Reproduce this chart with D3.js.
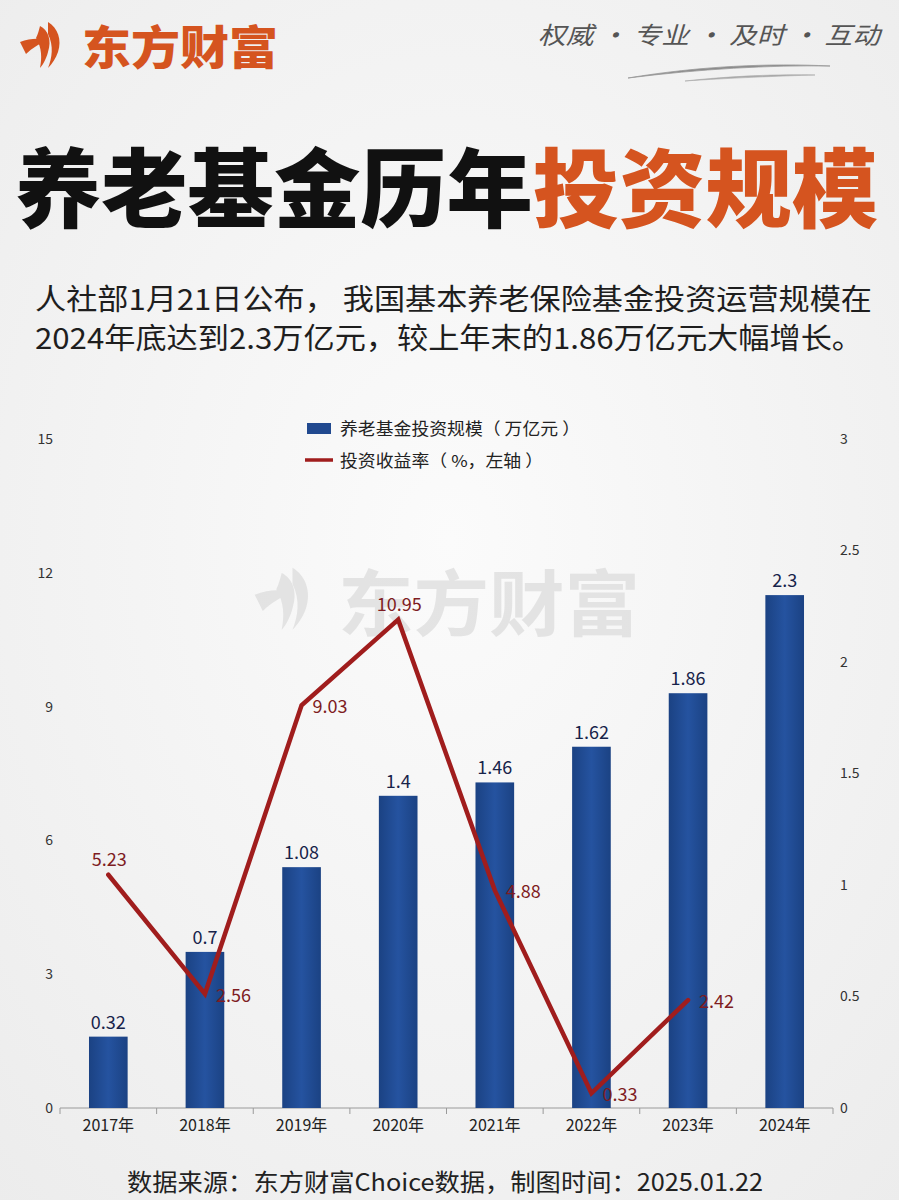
<!DOCTYPE html>
<html><head><meta charset="utf-8">
<script src="https://cdn.jsdelivr.net/npm/d3@7"></script>
<style>
html,body{margin:0;padding:0;background:#f2f2f2;}
svg{display:block;}
text{font-family:"Noto Sans CJK SC","Noto Sans",sans-serif;}
</style></head>
<body>
<svg id="c" width="899" height="1200"></svg>
<script>
// ---- data ----
const years = ["2017年","2018年","2019年","2020年","2021年","2022年","2023年","2024年"];
const scale = [0.32, 0.7, 1.08, 1.4, 1.46, 1.62, 1.86, 2.3];           // 万亿元 (right axis)
const yieldRate = [5.23, 2.56, 9.03, 10.95, 4.88, 0.33, 2.42, null];   // % (left axis)
const leftTicks = [0, 3, 6, 9, 12, 15];
const rightTicks = [0, 0.5, 1, 1.5, 2, 2.5, 3];
const legendLabels = ["养老基金投资规模（ 万亿元 ）", "投资收益率（ %，左轴 ）"];

// label placement (style only)
const lineLabelPos = ["above","right","right","above","right","right","right",null];

const svg = d3.select("#c");
const W = 899, H = 1200;

// background
const defs = svg.append("defs");
const rg = defs.append("radialGradient").attr("id","bg").attr("cx","50%").attr("cy","45%").attr("r","75%");
rg.append("stop").attr("offset","0%").attr("stop-color","#fbfbfb");
rg.append("stop").attr("offset","100%").attr("stop-color","#ececec");
svg.append("rect").attr("width",W).attr("height",H).attr("fill","url(#bg)");

const barGrad = defs.append("linearGradient").attr("id","barg").attr("x1","0").attr("x2","1");
barGrad.append("stop").attr("offset","0%").attr("stop-color","#1b4283");
barGrad.append("stop").attr("offset","50%").attr("stop-color","#2553a0");
barGrad.append("stop").attr("offset","100%").attr("stop-color","#1b4283");

const orange = "#d5541f";

// ---- header logo ----
const logo = svg.append("g").attr("transform","translate(18,20)");
logo.append("path").attr("fill",orange)
  .attr("d","M2,22 C12,18 22,18 28,20 C22,24 14,28 8,34 C6,30 4,26 2,22 Z");
logo.append("path").attr("fill",orange)
  .attr("d","M22,6 C30,10 34,20 30,32 C28,40 24,46 22,48 C24,38 24,28 18,18 C20,14 21,10 22,6 Z");
logo.append("path").attr("fill",orange)
  .attr("d","M30,2 C40,8 44,20 40,32 C38,38 34,44 30,48 C34,38 36,26 30,14 Z");
svg.append("text").attr("x",82).attr("y",44).attr("dominant-baseline","central")
  .attr("font-size",46).attr("font-weight",900).attr("fill",orange)
  .attr("textLength",196).attr("lengthAdjust","spacingAndGlyphs").text("东方财富");

// slogan
svg.append("text").attr("x",538).attr("y",33).attr("dominant-baseline","central")
  .attr("font-size",24).attr("fill","#555").attr("font-style","italic")
  .attr("font-family","'Noto Sans CJK SC',serif")
  .attr("textLength",342).attr("lengthAdjust","spacingAndGlyphs")
  .text("权威 · 专业 · 及时 · 互动");
svg.append("path").attr("fill","#8a8a8a")
  .attr("d","M628,78 C700,66 770,63 830,66 C770,65 700,69 628,78 Z").attr("stroke","#999").attr("stroke-width",0.8);
svg.append("path").attr("fill","#aaa")
  .attr("d","M685,81 C730,76 780,74 815,75 C780,76 730,78 685,81 Z").attr("stroke","#aaa").attr("stroke-width",0.6);

// ---- title ----
const title = svg.append("text").attr("x",15).attr("y",183).attr("dominant-baseline","central")
  .attr("font-size",86).attr("font-weight",900)
  .attr("textLength",863).attr("lengthAdjust","spacingAndGlyphs");
title.append("tspan").attr("fill","#111").text("养老基金历年");
title.append("tspan").attr("fill",orange).text("投资规模");

// ---- subtitle ----
svg.append("text").attr("x",35).attr("y",297).attr("dominant-baseline","central")
  .attr("font-size",29).attr("fill","#1e1e1e")
  .attr("textLength",837).attr("lengthAdjust","spacingAndGlyphs")
  .text("人社部1月21日公布， 我国基本养老保险基金投资运营规模在");
svg.append("text").attr("x",35).attr("y",336).attr("dominant-baseline","central")
  .attr("font-size",29).attr("fill","#1e1e1e")
  .attr("textLength",828).attr("lengthAdjust","spacingAndGlyphs")
  .text("2024年底达到2.3万亿元，较上年末的1.86万亿元大幅增长。");

// ---- watermark ----
const wm = svg.append("g").attr("opacity",0.6);
const wl = wm.append("g").attr("transform","translate(252,565) scale(1.35)");
wl.append("path").attr("fill","#d6d6d6").attr("d","M2,22 C12,18 22,18 28,20 C22,24 14,28 8,34 C6,30 4,26 2,22 Z");
wl.append("path").attr("fill","#d6d6d6").attr("d","M22,6 C30,10 34,20 30,32 C28,40 24,46 22,48 C24,38 24,28 18,18 C20,14 21,10 22,6 Z");
wl.append("path").attr("fill","#d6d6d6").attr("d","M30,2 C40,8 44,20 40,32 C38,38 34,44 30,48 C34,38 36,26 30,14 Z");
wm.append("text").attr("x",338).attr("y",598).attr("dominant-baseline","central")
  .attr("font-size",72).attr("font-weight",700).attr("fill","#d6d6d6")
  .attr("textLength",302).attr("lengthAdjust","spacingAndGlyphs").text("东方财富");

// ---- scales ----
const x = d3.scaleBand().domain(years).range([60, 833]).padding(0);
const yL = d3.scaleLinear().domain([0, 15]).range([1108, 439]);
const yR = d3.scaleLinear().domain([0, 3]).range([1108, 439]);
const barW = x.bandwidth() * 0.40;
const cx = d => x(d) + x.bandwidth() / 2;

// ---- axes ----
const axL = svg.append("g").attr("transform","translate(53,0)")
  .call(d3.axisLeft(yL).tickValues(leftTicks).tickSize(0).tickPadding(0));
const axR = svg.append("g").attr("transform","translate(840,0)")
  .call(d3.axisRight(yR).tickValues(rightTicks).tickFormat(d3.format("~g")).tickSize(0).tickPadding(0));
[axL, axR].forEach(a => {
  a.select(".domain").remove();
  a.selectAll("text").attr("font-size",14).attr("fill","#333")
    .attr("font-family","'Liberation Sans',Arial,sans-serif");
});

const axB = svg.append("g").attr("transform","translate(0,1108)")
  .call(d3.axisBottom(x).tickSize(0).tickPadding(12));
axB.select(".domain").attr("stroke","#9a9a9a").attr("d","M60,0H833");
axB.selectAll("text").attr("font-size",16).attr("fill","#222")
  .attr("font-family","'Liberation Sans Narrow','Noto Sans CJK SC',sans-serif");
const bounds = years.map(d => x(d)).concat([x.range()[1]]);
axB.selectAll(".btick").data(bounds).join("line").attr("class","btick")
  .attr("x1",d=>d).attr("x2",d=>d).attr("y1",0).attr("y2",6).attr("stroke","#9a9a9a");

// ---- bars ----
svg.append("g").selectAll("rect").data(years).join("rect")
  .attr("x", d => cx(d) - barW/2)
  .attr("y", (d,i) => yR(scale[i]))
  .attr("width", barW)
  .attr("height", (d,i) => yR(0) - yR(scale[i]))
  .attr("fill","url(#barg)");

svg.append("g").selectAll("text").data(years).join("text")
  .attr("x", d => cx(d))
  .attr("y", (d,i) => yR(scale[i]) - 16)
  .attr("text-anchor","middle").attr("dominant-baseline","central")
  .attr("font-size",18).attr("fill","#17234a")
  .attr("font-family","'Liberation Sans',Arial,sans-serif")
  .text((d,i) => scale[i]);

// ---- line labels (under the line) ----
const pts = years.map((d,i) => ({d, v: yieldRate[i], i})).filter(p => p.v != null);
svg.append("g").selectAll("text").data(pts).join("text")
  .attr("x", p => lineLabelPos[p.i] === "above" ? cx(p.d) + 1 : cx(p.d) + 11)
  .attr("y", p => lineLabelPos[p.i] === "above" ? yL(p.v) - 17 : yL(p.v))
  .attr("text-anchor", p => lineLabelPos[p.i] === "above" ? "middle" : "start")
  .attr("dominant-baseline","central")
  .attr("font-size",18).attr("fill","#7e1c22")
  .attr("font-family","'Liberation Sans',Arial,sans-serif")
  .text(p => p.v);

// ---- line ----
const line = d3.line().x(p => cx(p.d)).y(p => yL(p.v));
svg.append("path").datum(pts).attr("d", line)
  .attr("fill","none").attr("stroke","#a01d1d").attr("stroke-width",4.5)
  .attr("stroke-linejoin","miter").attr("stroke-linecap","round");

// ---- legend ----
const lg = svg.append("g");
lg.append("rect").attr("x",307).attr("y",423).attr("width",24).attr("height",11).attr("fill","#21498f");
lg.append("line").attr("x1",305).attr("x2",333).attr("y1",460).attr("y2",460)
  .attr("stroke","#a01d1d").attr("stroke-width",3.5);
lg.selectAll("text").data(legendLabels).join("text")
  .attr("x",340).attr("y",(d,i)=> i ? 460 : 428).attr("dominant-baseline","central")
  .attr("font-size",16.5).attr("fill","#222")
  .attr("textLength",(d,i)=> i ? 203 : 240).attr("lengthAdjust","spacingAndGlyphs")
  .text(d=>d);

// ---- source ----
svg.append("text").attr("x",127).attr("y",1180).attr("dominant-baseline","central")
  .attr("font-size",24).attr("fill","#222")
  .attr("textLength",636).attr("lengthAdjust","spacingAndGlyphs")
  .text("数据来源：东方财富Choice数据，制图时间：2025.01.22");
</script>
</body></html>
